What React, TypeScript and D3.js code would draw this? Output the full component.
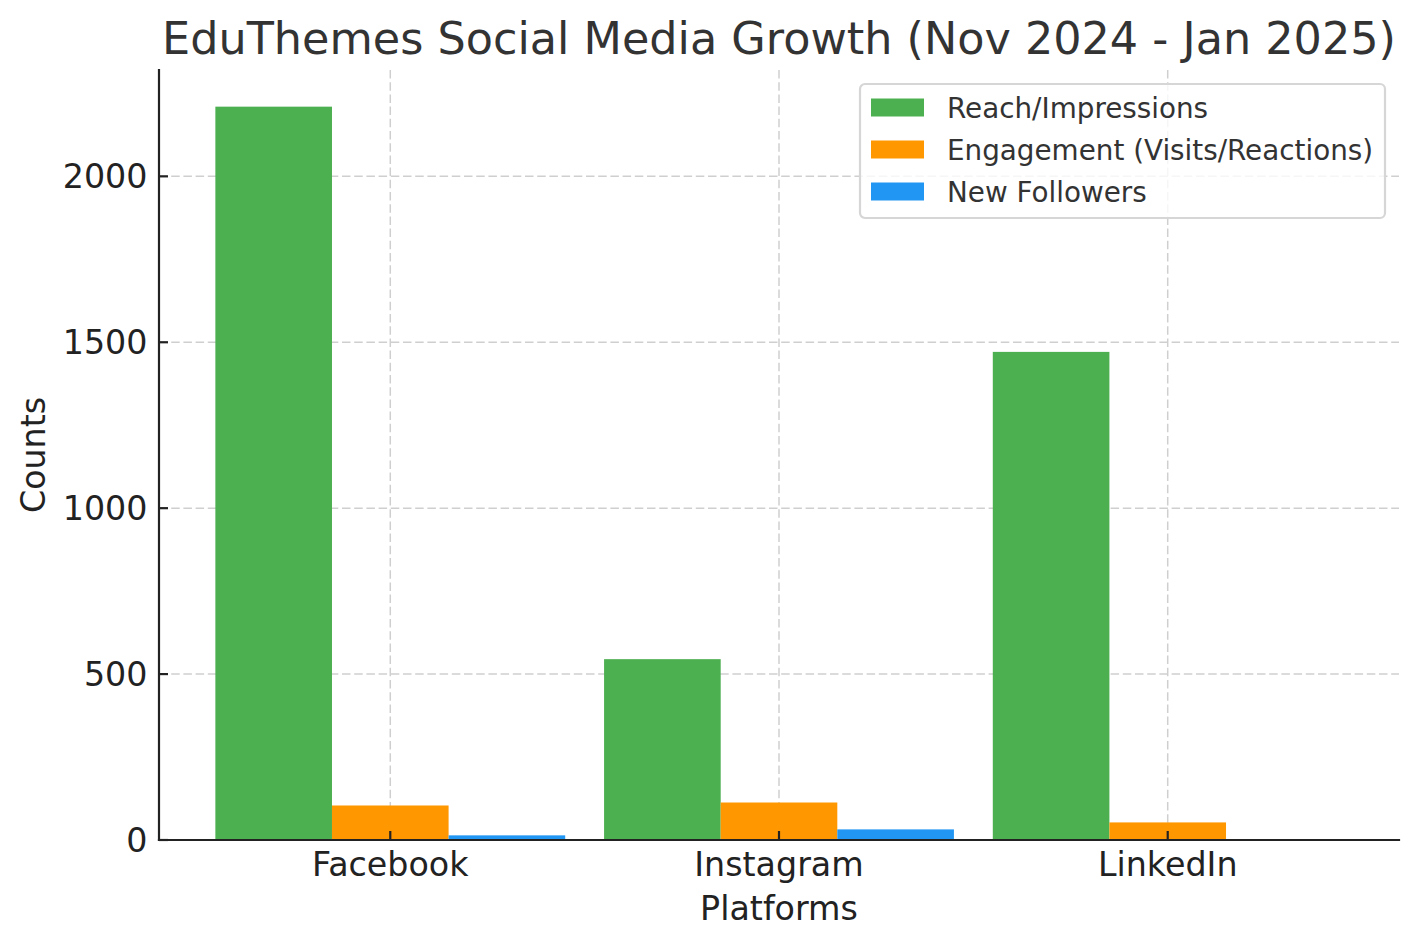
import React, { useRef, useEffect } from 'react';
import * as d3 from 'd3';

const platforms = ['Facebook', 'Instagram', 'LinkedIn'];
const seriesNames = ['Reach/Impressions', 'Engagement (Visits/Reactions)', 'New Followers'];
const reach = [2210, 545, 1471];
const engagement = [104, 113, 53];
const newFollowers = [14, 32, 0];
const seriesColors = ['#4CAF50', '#FF9800', '#2196F3'];
const yTicks = [0, 500, 1000, 1500, 2000];

const FONT = '"DejaVu Sans", Verdana, sans-serif';

const App: React.FC = () => {
  const chartRef = useRef<SVGSVGElement | null>(null);

  useEffect(() => {
    document.body.style.margin = '0';
    if (!chartRef.current) return;

    const width = 1418;
    const height = 947;
    const margin = { top: 70, right: 19, bottom: 107, left: 159 };
    const innerW = width - margin.left - margin.right;
    const innerH = height - margin.top - margin.bottom;

    const svg = d3.select(chartRef.current);
    svg.selectAll('*').remove();
    svg.attr('width', width).attr('height', height);

    const g = svg.append('g').attr('transform', `translate(${margin.left}, ${margin.top})`);

    const series = [reach, engagement, newFollowers];
    const barW = 0.3;

    // matplotlib style: categories at 0..n-1, 5% margins
    const lo = -barW * 1.5;
    const hi = platforms.length - 1 + barW * 1.5;
    const pad = (hi - lo) * 0.05;
    const xScale = d3.scaleLinear().domain([lo - pad, hi + pad]).range([0, innerW]);

    const yMax = (d3.max(series.flat()) as number) * 1.05;
    const yScale = d3.scaleLinear().domain([0, yMax]).range([innerH, 0]);

    // grid
    const gridColor = '#cfcfcf';
    g.append('g')
      .selectAll('line')
      .data(yTicks)
      .enter()
      .append('line')
      .attr('x1', 0)
      .attr('x2', innerW)
      .attr('y1', (d) => yScale(d))
      .attr('y2', (d) => yScale(d))
      .attr('stroke', gridColor)
      .attr('stroke-width', 1.5)
      .attr('stroke-dasharray', '8.5,3.7');

    g.append('g')
      .selectAll('line')
      .data(platforms)
      .enter()
      .append('line')
      .attr('x1', (d, i) => xScale(i))
      .attr('x2', (d, i) => xScale(i))
      .attr('y1', 0)
      .attr('y2', innerH)
      .attr('stroke', gridColor)
      .attr('stroke-width', 1.5)
      .attr('stroke-dasharray', '8.5,3.7');

    // bars
    series.forEach((vals, si) => {
      g.append('g')
        .selectAll('rect')
        .data(vals)
        .enter()
        .append('rect')
        .attr('x', (d, i) => xScale(i + (si - 1) * barW - barW / 2))
        .attr('y', (d) => yScale(d))
        .attr('width', (d, i) => xScale(i + (si - 1) * barW + barW / 2) - xScale(i + (si - 1) * barW - barW / 2))
        .attr('height', (d) => innerH - yScale(d))
        .attr('fill', seriesColors[si]);
    });

    // axes (ticks point inward)
    const axisColor = '#222222';
    const textColor = '#222222';
    const tickLen = 9;
    const tickFont = 33.3;

    const yAxis = g.append('g');
    yAxis
      .append('line')
      .attr('x1', 0)
      .attr('x2', 0)
      .attr('y1', 0)
      .attr('y2', innerH)
      .attr('stroke', axisColor)
      .attr('stroke-width', 2.2)
      .attr('stroke-linecap', 'square');
    yTicks.forEach((t) => {
      yAxis
        .append('line')
        .attr('x1', 0)
        .attr('x2', tickLen)
        .attr('y1', yScale(t))
        .attr('y2', yScale(t))
        .attr('stroke', axisColor)
        .attr('stroke-width', 2.2);
      yAxis
        .append('text')
        .attr('x', -11.5)
        .attr('y', yScale(t))
        .attr('dy', '0.36em')
        .attr('text-anchor', 'end')
        .attr('font-family', FONT)
        .attr('font-size', tickFont)
        .attr('fill', textColor)
        .text(t);
    });

    const xAxis = g.append('g').attr('transform', `translate(0, ${innerH})`);
    xAxis
      .append('line')
      .attr('x1', 0)
      .attr('x2', innerW)
      .attr('stroke', axisColor)
      .attr('stroke-width', 2.2)
      .attr('stroke-linecap', 'square');
    platforms.forEach((p, i) => {
      xAxis
        .append('line')
        .attr('x1', xScale(i))
        .attr('x2', xScale(i))
        .attr('y1', 0)
        .attr('y2', -tickLen)
        .attr('stroke', axisColor)
        .attr('stroke-width', 2.2);
      xAxis
        .append('text')
        .attr('x', xScale(i))
        .attr('y', 35.7)
        .attr('text-anchor', 'middle')
        .attr('font-family', FONT)
        .attr('font-size', tickFont)
        .attr('fill', textColor)
        .text(p);
    });

    // axis labels
    svg
      .append('text')
      .attr('x', margin.left + innerW / 2)
      .attr('y', 920)
      .attr('text-anchor', 'middle')
      .attr('font-family', FONT)
      .attr('font-size', tickFont)
      .attr('fill', textColor)
      .text('Platforms');

    svg
      .append('text')
      .attr('transform', `translate(45, ${margin.top + innerH / 2}) rotate(-90)`)
      .attr('text-anchor', 'middle')
      .attr('font-family', FONT)
      .attr('font-size', tickFont)
      .attr('fill', textColor)
      .text('Counts');

    // title
    svg
      .append('text')
      .attr('x', margin.left + innerW / 2)
      .attr('y', 53.5)
      .attr('text-anchor', 'middle')
      .attr('font-family', FONT)
      .attr('font-size', 44.5)
      .attr('fill', '#333333')
      .text('EduThemes Social Media Growth (Nov 2024 - Jan 2025)');

    // legend
    const legend = svg.append('g').attr('transform', 'translate(860, 84)');
    legend
      .append('rect')
      .attr('x', 0)
      .attr('y', 0)
      .attr('width', 525)
      .attr('height', 134)
      .attr('rx', 5)
      .attr('fill', 'rgba(255,255,255,0.8)')
      .attr('stroke', '#d6d6d6')
      .attr('stroke-width', 2.2);
    seriesNames.forEach((name, i) => {
      const cy = 23.5 + i * 42;
      legend
        .append('rect')
        .attr('x', 11)
        .attr('y', cy - 9)
        .attr('width', 53)
        .attr('height', 18)
        .attr('fill', seriesColors[i]);
      legend
        .append('text')
        .attr('x', 87)
        .attr('y', cy)
        .attr('dy', '0.36em')
        .attr('font-family', FONT)
        .attr('font-size', 27.8)
        .attr('fill', '#333333')
        .text(name);
    });
  }, []);

  return <svg ref={chartRef} style={{ display: 'block', background: '#fff' }}></svg>;
};

export default App;
